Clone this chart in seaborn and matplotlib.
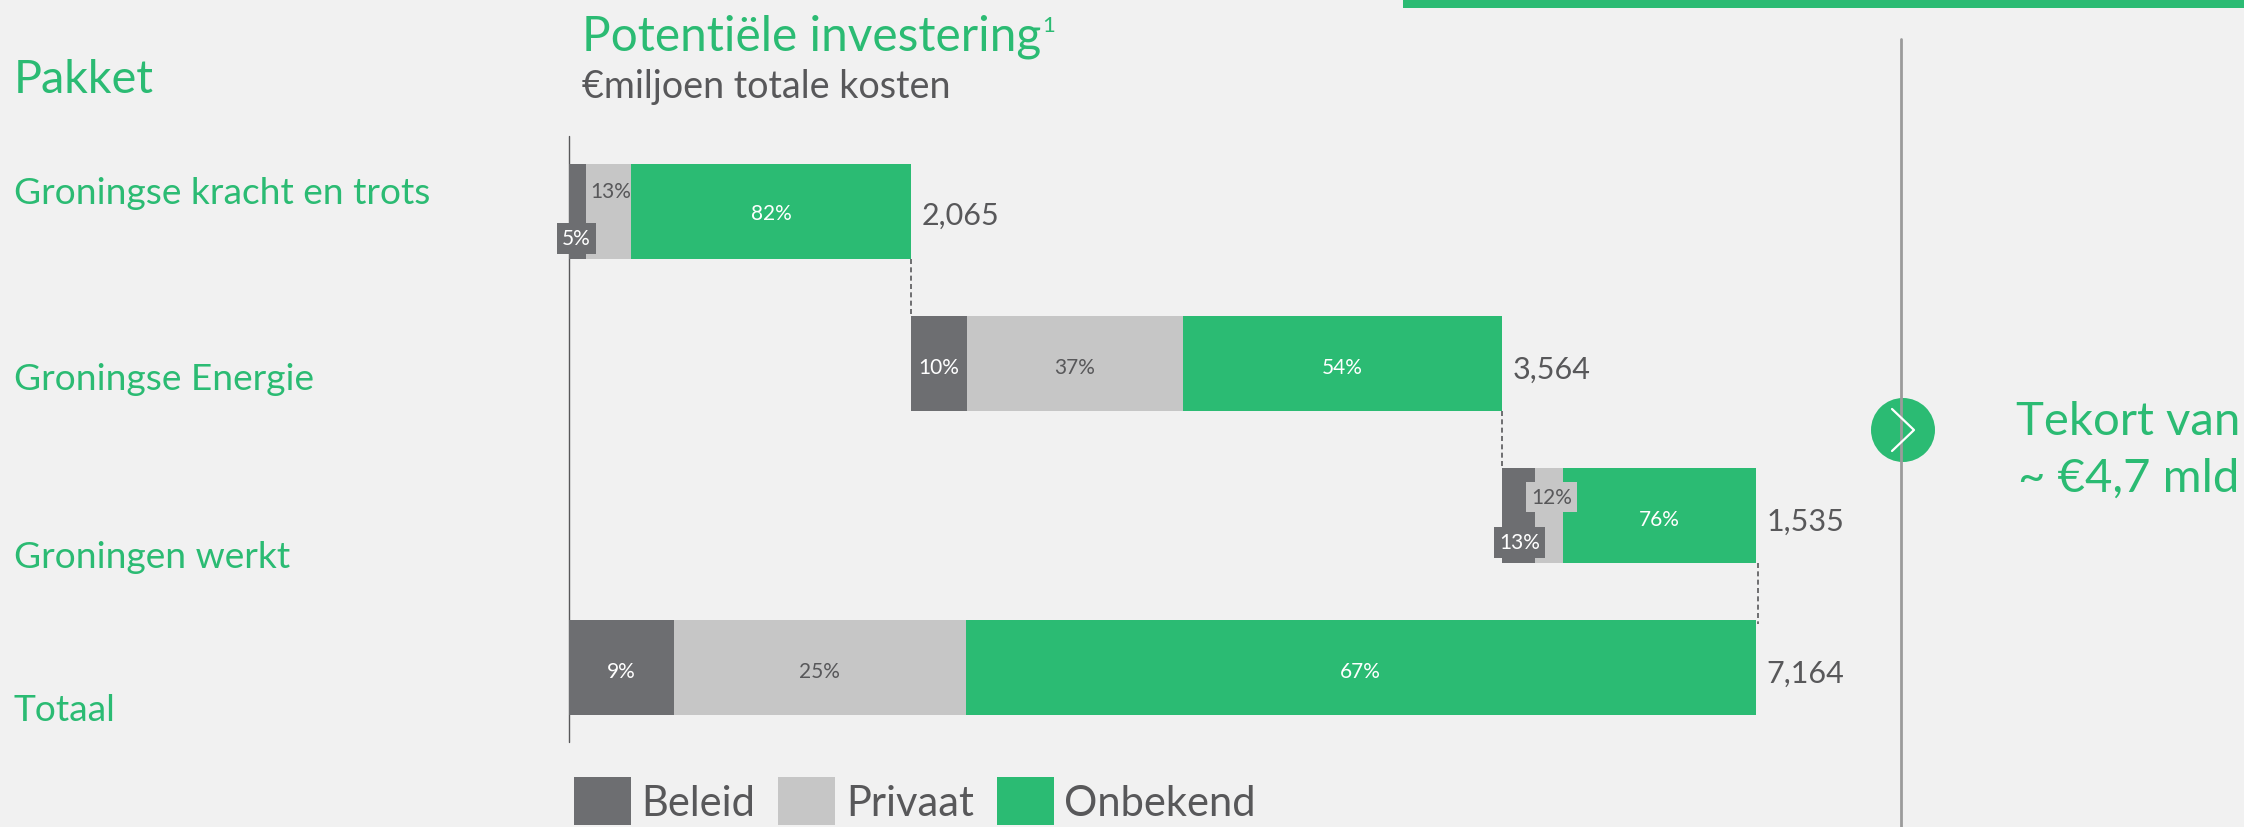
import matplotlib
matplotlib.use("Agg")
import matplotlib.pyplot as plt
from matplotlib.lines import Line2D
from matplotlib.patches import Ellipse, Rectangle
import numpy as np
import pandas as pd
import seaborn as sns

# values (EUR million)
pakket = ["Groningse kracht en trots", "Groningse Energie", "Groningen werkt", "Totaal"]
beleid = [103, 337, 199, 631]
privaat = [270, 1304, 173, 1762]
onbekend = [1692, 1923, 1163, 4771]
totaal_labels = ["2,065", "3,564", "1,535", "7,164"]
beleid_pct = ["5%", "10%", "13%", "9%"]
privaat_pct = ["13%", "37%", "12%", "25%"]
onbekend_pct = ["82%", "54%", "76%", "67%"]
start = [0, 2065, 5629, 0]
series_names = ["Beleid", "Privaat", "Onbekend"]

GREEN = "#2BBB73"
DARK = "#6D6E71"
LIGHT = "#C6C6C6"
BG = "#F1F1F1"
TEXT = "#58585A"
W, H = 2244, 828

sns.set_theme(style="white")
plt.rcParams["font.family"] = ["Lato", "DejaVu Sans"]
plt.rcParams["figure.facecolor"] = BG
plt.rcParams["axes.facecolor"] = BG

df = pd.DataFrame({"pakket": pakket, "Beleid": beleid, "Privaat": privaat, "Onbekend": onbekend})
starts = np.array(start, dtype=float)

fig = plt.figure(figsize=(W / 100, H / 100), dpi=100)
ax = fig.add_axes([0, 0, 1, 1])


def fx(x):
    return x / W


def fy(y):
    return 1 - y / H


# stacked floating bars, each series starts where the last one stopped
left = starts.copy()
for name, col in zip(series_names, [DARK, LIGHT, GREEN]):
    sns.barplot(data=df, y="pakket", x=name, color=col, left=left, width=0.625,
                orient="h", errorbar=None, saturation=1, label=name, linewidth=0, ax=ax)
    left = left + df[name].values

# 0.1657 px per EUR million, axis at x=569, first bar centre at y=212, 152 px between bars
scale = 0.1657
ax.set_xlim(-569 / scale, (W - 569) / scale)
ax.set_ylim((H - 212) / 152, -212 / 152)
ax.axis("off")

# connectors between the bars
ends = starts + df["Beleid"].values + df["Privaat"].values + df["Onbekend"].values
for i in range(3):
    shift = 12 if i == 2 else 0
    ax.plot([ends[i] + shift, ends[i] + shift], [i + 0.3125, i + 1 - 0.3125 + (0.03 if i == 2 else 0)],
            color=TEXT, lw=1.2, ls=(0, (3, 2)))

# percentages inside the bars
beleid_mid = starts + df["Beleid"].values / 2
privaat_mid = starts + df["Beleid"].values + df["Privaat"].values / 2
onbekend_mid = starts + df["Beleid"].values + df["Privaat"].values + df["Onbekend"].values / 2
for i in range(4):
    off = 0.025 if i else 0.015
    ax.text(onbekend_mid[i], i + off, onbekend_pct[i], color="white", fontsize=15,
            ha="center", va="center")
    if i in (1, 3):
        ax.text(beleid_mid[i], i + off, beleid_pct[i], color="white", fontsize=15,
                ha="center", va="center")
        ax.text(privaat_mid[i], i + off, privaat_pct[i], color=TEXT, fontsize=15,
                ha="center", va="center")
    ax.text(ends[i] + 65, i + off + 0.01, totaal_labels[i], color=TEXT, fontsize=22,
            ha="left", va="center")

# the narrow segments get their label shifted, some on a small box
ax.text(privaat_mid[0] + 15, -0.13, privaat_pct[0], color=TEXT, fontsize=15, ha="center", va="center")
ax.text(beleid_mid[0] - 7, 0.18, beleid_pct[0], color="white", fontsize=15, ha="center", va="center",
        bbox=dict(boxstyle="square,pad=0.25", fc=DARK, ec="none"))
ax.text(privaat_mid[2] + 14, -0.12 + 2, privaat_pct[2], color=TEXT, fontsize=15, ha="center", va="center",
        bbox=dict(boxstyle="square,pad=0.25", fc=LIGHT, ec="none"))
ax.text(beleid_mid[2] + 6, 0.18 + 2, beleid_pct[2], color="white", fontsize=15, ha="center", va="center",
        bbox=dict(boxstyle="square,pad=0.25", fc=DARK, ec="none"))

# axis line goes under the bars and boxes, divider and banner on top
fig.add_artist(Line2D([fx(569), fx(569)], [fy(137), fy(743)], color=TEXT, lw=1, zorder=-1))
fig.add_artist(Line2D([fx(1901), fx(1901)], [fy(40), fy(828)], color="#9B9B9B", lw=2))
fig.add_artist(Rectangle((fx(1403), fy(9)), fx(841), 9 / H, color=GREEN, lw=0))

# round arrow
fig.add_artist(Ellipse((fx(1903), fy(431)), 64 / W, 64 / H, color=GREEN, lw=0))
fig.add_artist(Line2D([fx(1892), fx(1914), fx(1892)], [fy(410), fy(431), fy(452)], color="white", lw=1.6))

# headings and row names
fig.text(fx(582), fy(37), "Potentiële investering", color=GREEN, fontsize=34.4, va="center")
fig.text(fx(1042), fy(26), "1", color=GREEN, fontsize=16, va="center")
fig.text(fx(582), fy(87), "€miljoen totale kosten", color=TEXT, fontsize=27.2, va="center")
fig.text(fx(14), fy(80), "Pakket", color=GREEN, fontsize=33.7, va="center")
for name, y in zip(pakket, [194, 380, 557, 711]):
    fig.text(fx(14), fy(y), name, color=GREEN, fontsize=26.7, va="center")

fig.text(fx(2016), fy(422), "Tekort van", color=GREEN, fontsize=34, va="center")
fig.text(fx(2018), fy(479), "~ €4,7 mld", color=GREEN, fontsize=34, va="center")

# legend from the bars
ax.legend(loc="lower left", bbox_to_anchor=(fx(574), fy(826)), bbox_transform=fig.transFigure,
          ncol=3, frameon=False, fontsize=30, labelcolor=TEXT, borderpad=0, borderaxespad=0,
          handlelength=1.37, handleheight=1.4, handletextpad=0.25, columnspacing=0.55)

fig.savefig("out.png", dpi=100, facecolor=BG)
